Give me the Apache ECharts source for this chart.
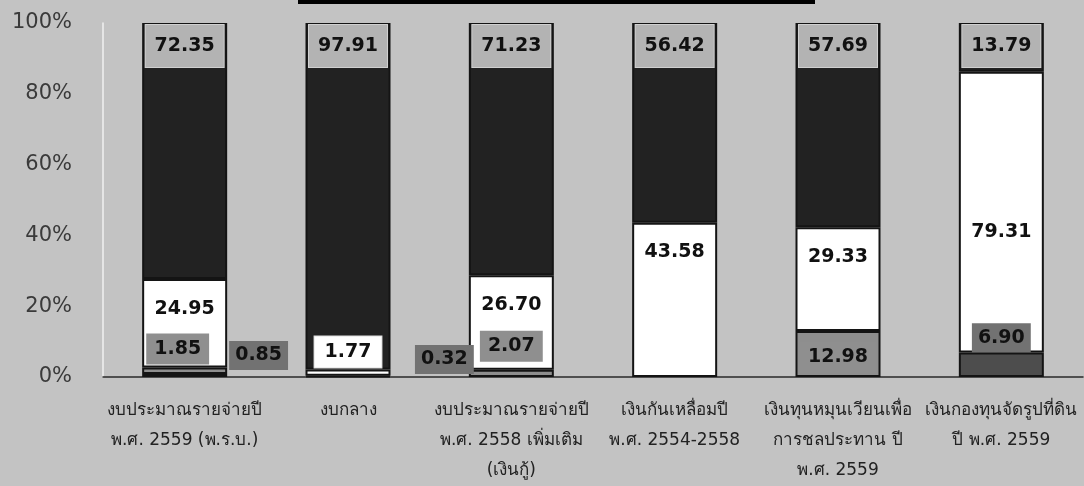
<!DOCTYPE html>
<html>
<head>
<meta charset="utf-8">
<script src="https://cdn.jsdelivr.net/npm/echarts@6/dist/echarts.min.js"></script>
<style>
html,body{margin:0;padding:0;background:#c3c3c3;}
#c{width:1084px;height:486px;}
</style>
</head>
<body>
<div id="c"></div>
<script>
const categories = [
  "งบประมาณรายจ่ายปี\nพ.ศ. 2559 (พ.ร.บ.)",
  "งบกลาง",
  "งบประมาณรายจ่ายปี\nพ.ศ. 2558 เพิ่มเติม\n(เงินกู้)",
  "เงินกันเหลื่อมปี\nพ.ศ. 2554-2558",
  "เงินทุนหมุนเวียนเพื่อ\nการชลประทาน ปี\nพ.ศ. 2559",
  "เงินกองทุนจัดรูปที่ดิน\nปี พ.ศ. 2559"
];
const darkValues  = [0.85, 0.32, null, null, null, 6.90];
const grayValues  = [1.85, null, 2.07, null, 12.98, null];
const whiteValues = [24.95, 1.77, 26.70, 43.58, 29.33, 79.31];
const blackValues = [72.35, 97.91, 71.23, 56.42, 57.69, 13.79];
const yTickLabels = ["0%", "20%", "40%", "60%", "80%", "100%"];

const FONT = 'Tahoma, "DejaVu Sans", "Noto Sans", sans-serif';
const lbl = {fontFamily: FONT, fontWeight: 'bold', fontSize: 19, color: '#111'};

// per-point label placement tweaks (layout only)
const darkLabelTweaks = [
  {position: 'right', distance: 2, offset: [0, -20]},
  {position: 'right', distance: 24, offset: [0, -17]},
  null, null, null,
  {position: 'inside', offset: [0, -27]}
];
const grayLabelTweaks = [
  {position: 'top', distance: 3, offset: [-7, 0]},
  null,
  {position: 'top', distance: 8, offset: [0, 0]},
  null,
  {position: 'insideBottom', distance: 4, offset: [0, 0]},
  null
];
const whiteLabelTweaks = [
  null,
  {position: 'top', distance: 2, backgroundColor: '#fff', padding: [6, 10], borderColor: '#ddd', borderWidth: 1},
  null, null, null,
  {position: 'inside', offset: [0, 20]}
];

function build(values, tweaks) {
  return values.map((v, i) => {
    const t = tweaks && tweaks[i];
    if (v == null) return {value: v};
    return t ? {value: v, label: Object.assign({}, t)} : {value: v};
  });
}
const fmt = p => p.value == null ? '' : p.value.toFixed(2);

const barStyle = c => ({color: c, borderColor: '#141414', borderWidth: 2});

const chart = echarts.init(document.getElementById('c'));
chart.setOption({
  backgroundColor: '#c3c3c3',
  animation: false,
  graphic: [
    {type: 'rect', shape: {x: 298, y: 0, width: 517, height: 4}, style: {fill: '#000'}}
  ],
  grid: {left: 103, right: 1, top: 23, bottom: 107, containLabel: false},
  xAxis: {
    type: 'category',
    data: categories,
    axisLine: {show: true, lineStyle: {color: '#2a2a2a', width: 1.5}},
    axisTick: {show: false},
    axisLabel: {interval: 0, fontFamily: FONT, fontSize: 17, color: '#222', lineHeight: 30, margin: 19}
  },
  yAxis: {
    type: 'value',
    min: 0, max: 100, interval: 20,
    axisLine: {show: true, lineStyle: {color: '#f0f0f0', width: 1.5}},
    axisTick: {show: false},
    splitLine: {show: false},
    axisLabel: {
      fontFamily: FONT, fontSize: 21, color: '#3a3a3a', margin: 31,
      formatter: (v) => yTickLabels[Math.round(v / 20)]
    }
  },
  series: [
    {
      name: 'dark', type: 'bar', stack: 's', barWidth: 85,
      data: build(darkValues, darkLabelTweaks),
      itemStyle: barStyle('#4d4d4d'),
      label: Object.assign({show: true, formatter: fmt, backgroundColor: '#727272', padding: [5, 6]}, lbl)
    },
    {
      name: 'gray', type: 'bar', stack: 's', barWidth: 85,
      data: build(grayValues, grayLabelTweaks),
      itemStyle: barStyle('#8e8e8e'),
      label: Object.assign({show: true, formatter: fmt, backgroundColor: '#8f8f8f', padding: [6, 8]}, lbl)
    },
    {
      name: 'white', type: 'bar', stack: 's', barWidth: 85,
      data: build(whiteValues, whiteLabelTweaks),
      itemStyle: barStyle('#ffffff'),
      label: Object.assign({show: true, formatter: fmt, position: 'insideTop', distance: 20}, lbl)
    },
    {
      name: 'black', type: 'bar', stack: 's', barWidth: 85,
      data: blackValues,
      itemStyle: barStyle('#222222'),
      label: Object.assign({show: true, formatter: fmt, position: 'insideTop', distance: 2,
        backgroundColor: '#b3b3b3', width: 70, lineHeight: 24, align: 'center',
        padding: [9, 4], borderColor: '#d0d0d0', borderWidth: 1}, lbl)
    }
  ]
});
</script>
</body>
</html>
